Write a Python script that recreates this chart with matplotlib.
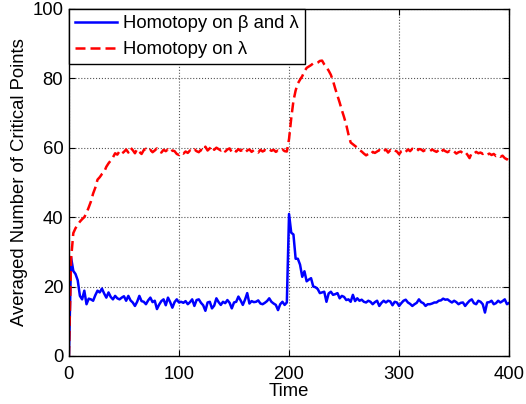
import numpy as np
import matplotlib
matplotlib.use("Agg")
import matplotlib.pyplot as plt

plt.rcParams['font.family'] = ['Liberation Sans', 'DejaVu Sans']

# time steps (every 2 units)
time = np.arange(0, 401, 2)

# Homotopy on beta and lambda (blue, solid)
blue_vals = [
    0, 28.3, 24.5, 23.6, 21.8, 17.3, 16.3, 18.8, 14.9, 16.5,
    16.3, 15.9, 17.5, 18.8, 18.3, 19.4, 18.0, 16.8, 18.3, 17.0,
    16.3, 17.3, 16.6, 16.3, 16.8, 17.2, 15.9, 17.3, 16.0, 15.4,
    14.4, 15.6, 17.3, 15.8, 15.6, 14.9, 16.0, 16.8, 15.5, 15.9,
    13.5, 14.8, 15.8, 16.3, 14.6, 16.8, 15.5, 13.9, 15.5, 16.3,
    15.4, 15.6, 15.3, 15.8, 14.9, 15.5, 16.3, 14.4, 16.1, 16.3,
    15.3, 14.6, 13.0, 15.4, 15.6, 13.7, 14.5, 16.6, 15.5, 14.7,
    15.6, 15.2, 16.1, 15.3, 13.7, 15.4, 15.6, 17.1, 16.0, 14.7,
    16.2, 18.1, 15.1, 15.8, 15.5, 15.6, 16.0, 15.1, 14.9, 15.3,
    15.8, 16.6, 15.6, 15.1, 14.7, 13.2, 14.9, 15.6, 14.7, 15.4,
    40.9, 35.5, 35.0, 28.0, 28.0, 26.3, 22.8, 24.4, 21.5, 22.0,
    22.4, 20.0, 19.8, 19.3, 18.1, 18.3, 18.5, 15.6, 18.0, 18.5,
    17.6, 17.8, 18.1, 16.6, 17.3, 17.0, 16.1, 16.3, 15.6, 17.6,
    15.8, 16.6, 15.9, 16.2, 15.6, 15.4, 15.9, 15.6, 14.9, 15.5,
    15.9, 14.4, 15.3, 15.9, 15.4, 15.9, 15.7, 14.6, 15.6, 15.4,
    14.4, 15.2, 15.9, 16.2, 15.4, 15.0, 14.4, 14.9, 15.3, 16.3,
    15.5, 15.2, 14.4, 14.9, 14.9, 15.1, 15.4, 15.4, 15.9, 16.0,
    16.5, 16.2, 16.3, 15.8, 15.4, 15.9, 15.5, 14.9, 15.3, 15.4,
    14.4, 15.2, 15.9, 16.3, 15.2, 14.9, 15.9, 15.6, 14.9, 12.5,
    15.4, 15.5, 15.9, 14.9, 15.2, 15.9, 15.4, 15.8, 16.3, 14.9,
    15.3,
]

# Homotopy on lambda (red, dashed)
red_vals = [
    0, 28.0, 35.4, 36.8, 37.8, 38.7, 39.4, 40.0, 41.2, 42.8,
    44.5, 46.8, 48.5, 50.8, 51.5, 52.4, 53.0, 54.5, 55.5, 56.3,
    57.2, 58.4, 58.0, 59.0, 58.3, 58.8, 59.5, 58.6, 60.0, 59.3,
    58.4, 59.6, 58.8, 58.2, 59.3, 59.7, 59.0, 59.4, 58.7, 59.2,
    59.8, 59.1, 58.6, 59.4, 59.0, 59.5, 58.7, 59.2, 59.0, 58.2,
    57.9, 58.6, 58.3, 58.9, 58.5, 59.2, 58.8, 59.5, 59.0, 58.7,
    59.4, 59.0, 60.3, 59.2, 59.8, 60.5, 59.4, 60.0, 59.6, 59.2,
    59.7, 58.9, 59.5, 59.8, 58.7, 59.3, 58.9, 59.6, 59.1, 59.4,
    58.6, 59.2, 59.5, 58.8, 59.3, 59.0, 58.6, 59.4, 58.9, 59.3,
    59.0, 59.5, 59.1, 59.4, 58.8, 59.2, 58.9, 59.5, 59.0, 58.9,
    62.5, 68.5, 73.5, 76.5, 78.5, 79.6, 80.6, 82.0, 83.0, 83.4,
    83.8, 84.3, 84.2, 84.5, 85.0, 85.1, 84.0, 83.2, 82.2, 81.0,
    79.2, 77.0, 75.0, 73.0, 70.8, 68.8, 66.6, 63.8, 61.5, 61.0,
    60.5, 60.0, 59.3, 58.9, 58.3, 57.8, 58.2, 57.9, 58.8, 58.5,
    58.9, 59.3, 58.7, 59.0, 59.5, 58.6, 59.3, 58.8, 59.2, 58.9,
    58.1, 59.0, 59.3, 58.8, 59.5, 59.0, 59.7, 59.3, 59.0, 59.6,
    59.5, 59.0, 59.4, 59.3, 59.0, 59.5, 59.1, 58.8, 59.3, 58.6,
    59.4, 59.0, 58.7, 59.1, 58.6, 58.9, 58.3, 58.7, 58.9, 58.4,
    58.8, 58.0, 57.0, 58.5, 58.3, 58.8, 58.4, 58.6, 58.2, 58.5,
    58.0, 58.3, 57.9, 58.2, 57.6, 57.9, 57.4, 57.7, 57.0, 56.6,
    58.0,
]

x_ticks = [0, 100, 200, 300, 400]
y_ticks = [0, 20, 40, 60, 80, 100]

fig = plt.figure(figsize=(5.26, 4.04), dpi=100)
ax = fig.add_axes([0.131, 0.119, 0.837, 0.859])

ax.plot(time, blue_vals, color='#0000ff', lw=1.8, label=r'Homotopy on β and λ')
ax.plot(time, red_vals, color='#ff0000', lw=1.8, dashes=(4.0, 2.0),
        label=r'Homotopy on λ')

ax.set_xlim(0, 400)
ax.set_ylim(0, 100)
ax.set_xticks(x_ticks)
ax.set_yticks(y_ticks)
ax.tick_params(direction='in', length=4, width=0.8, top=True, right=True,
               labelsize=13.3, colors='black')
ax.tick_params(axis='x', pad=7)
ax.tick_params(axis='y', pad=4)
ax.grid(True, linestyle=':', color='#555555', linewidth=0.8)
for sp in ax.spines.values():
    sp.set_linewidth(1.0)

ax.set_xlabel('Time', fontsize=13.3, labelpad=0)
ax.set_ylabel('Averaged Number of Critical Points', fontsize=13.3, labelpad=3)

leg = ax.legend(loc='upper left', fontsize=13.3, borderaxespad=0,
                fancybox=False, framealpha=1, edgecolor='black',
                handlelength=2.3, labelspacing=0.5, borderpad=0.33,
                handletextpad=0.3)
leg.get_frame().set_linewidth(1.0)

fig.savefig('out.png', dpi=100)
